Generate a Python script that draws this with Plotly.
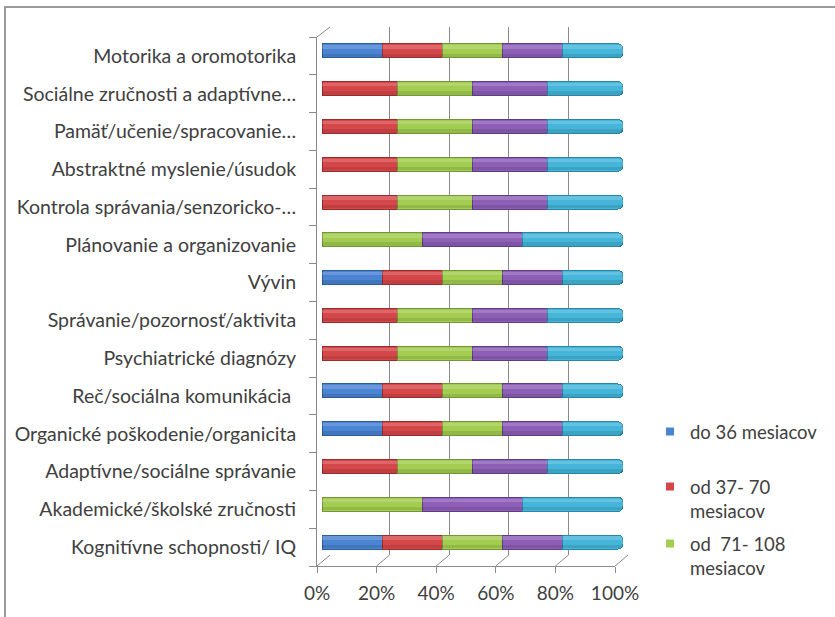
import plotly.graph_objects as go

# Category labels, top to bottom
categories = [
    "Motorika a oromotorika",
    "Sociálne zručnosti a adaptívne…",
    "Pamäť/učenie/spracovanie…",
    "Abstraktné myslenie/úsudok",
    "Kontrola správania/senzoricko-…",
    "Plánovanie a organizovanie",
    "Vývin",
    "Správanie/pozornosť/aktivita",
    "Psychiatrické diagnózy",
    "Reč/sociálna komunikácia ",
    "Organické poškodenie/organicita",
    "Adaptívne/sociálne správanie",
    "Akademické/školské zručnosti",
    "Kognitívne schopnosti/ IQ",
]

# Number of assessed methods per age band (shown as a 100 % stacked bar)
do_36 = [1, 0, 0, 0, 0, 0, 1, 0, 0, 1, 1, 0, 0, 1]
od_37_70 = [1, 1, 1, 1, 1, 0, 1, 1, 1, 1, 1, 1, 0, 1]
od_71_108 = [1, 1, 1, 1, 1, 1, 1, 1, 1, 1, 1, 1, 1, 1]
skupina_4 = [1, 1, 1, 1, 1, 1, 1, 1, 1, 1, 1, 1, 1, 1]
skupina_5 = [1, 1, 1, 1, 1, 1, 1, 1, 1, 1, 1, 1, 1, 1]

series_names = ["do 36 mesiacov", "od 37- 70<br>mesiacov", "od  71- 108<br>mesiacov",
                "skupina 4", "skupina 5"]
series_values = [do_36, od_37_70, od_71_108, skupina_4, skupina_5]

x_ticks = [0, 20, 40, 60, 80, 100]
x_tick_labels = ["0%", "20%", "40%", "60%", "80%", "100%"]

W, H = 835, 617
FONT = "Lato"
TXT = "#404040"
AXC = "#8a8a8a"

fill = ["#4a84d2", "#d6474a", "#a3cd50", "#8d5fb6", "#45b6da"]
edge = ["#2d5c9a", "#9a2c2e", "#73963a", "#5e3d85", "#2a85a6"]

# pixel geometry of the pseudo-3D frame
FRONT_X = (317, 615)
BACK_X = (330, 628)
FRONT_BOTTOM, BACK_BOTTOM = 566, 555
FRONT_TOP, BACK_TOP = 37, 27


def fx(px):
    return px / W


def fy(py):
    return 1 - py / H


fig = go.Figure()

# empty traces so the back-wall and front-frame subplots get drawn
fig.add_trace(go.Scatter(x=[], y=[], xaxis="x", yaxis="y", showlegend=False,
                         hoverinfo="skip"))
fig.add_trace(go.Scatter(x=[], y=[], xaxis="x3", yaxis="y3", showlegend=False,
                         hoverinfo="skip"))

# cylinder bodies
for name, vals, c, e in zip(series_names, series_values, fill, edge):
    fig.add_trace(go.Bar(
        x=vals, y=categories, name=name, orientation="h",
        xaxis="x2", yaxis="y2",
        marker=dict(color=c, line=dict(color=e, width=1)),
        showlegend=False,
    ))

# light reflection along the upper side and shade along the lower side
for vals in series_values:
    fig.add_trace(go.Bar(
        x=vals, y=categories, orientation="h", xaxis="x4", yaxis="y4",
        width=0.09, offset=-0.15, marker=dict(color="rgba(255,255,255,0.17)", line_width=0),
        showlegend=False, hoverinfo="skip",
    ))
for vals in series_values:
    fig.add_trace(go.Bar(
        x=vals, y=categories, orientation="h", xaxis="x5", yaxis="y5",
        width=0.09, offset=0.07, marker=dict(color="rgba(0,0,0,0.10)", line_width=0),
        showlegend=False, hoverinfo="skip",
    ))

# legend keys (small squares)
legend_ids = ["legend", "legend2", "legend3"]
for name, c, lg in zip(series_names[:3], fill[:3], legend_ids):
    fig.add_trace(go.Scatter(
        x=[None], y=[None], name=name, mode="markers", legend=lg,
        marker=dict(symbol="square", size=8, color=c), xaxis="x2", yaxis="y2",
    ))

legend_common = dict(
    font=dict(family=FONT, size=18.5, color=TXT),
    bgcolor="rgba(0,0,0,0)", xanchor="left", yanchor="middle",
    valign="top", itemwidth=30, tracegroupgap=0,
)

bar_x = dict(domain=[fx(322), fx(623)], range=[0, 100], visible=False)
bar_y = dict(domain=[fy(561), fy(32)], type="category", categoryorder="array",
             categoryarray=categories, range=[13.5, -0.5], visible=False)

shapes = [
    dict(type="rect", xref="paper", yref="paper",
         x0=fx(5), x1=1.05, y0=-0.05, y1=fy(7),
         line=dict(color="#9a9a9a", width=2), fillcolor="rgba(0,0,0,0)"),
    dict(type="line", xref="paper", yref="paper",
         x0=fx(FRONT_X[0]), y0=fy(FRONT_TOP), x1=fx(BACK_X[0]), y1=fy(BACK_TOP),
         line=dict(color=AXC, width=1)),
]
for v in x_ticks:
    fpx = FRONT_X[0] + (FRONT_X[1] - FRONT_X[0]) * v / 100
    bpx = BACK_X[0] + (BACK_X[1] - BACK_X[0]) * v / 100
    shapes.append(dict(type="line", xref="paper", yref="paper",
                       x0=fx(fpx), y0=fy(FRONT_BOTTOM), x1=fx(bpx), y1=fy(BACK_BOTTOM),
                       line=dict(color=AXC, width=1)))

fig.update_layout(
    width=W, height=H,
    margin=dict(l=0, r=0, t=0, b=0, autoexpand=False),
    paper_bgcolor="white", plot_bgcolor="rgba(0,0,0,0)",
    barmode="stack", barnorm="percent", bargap=0.63,
    barcornerradius=5,
    font=dict(family=FONT, size=18.5, color=TXT),
    # back wall with vertical gridlines
    xaxis=dict(domain=[fx(BACK_X[0]), fx(BACK_X[1])], range=[0, 100], tickvals=x_ticks,
               showgrid=True, gridcolor=AXC, gridwidth=1, showticklabels=False,
               ticks="", zeroline=False, showline=False, anchor="y"),
    yaxis=dict(domain=[fy(BACK_BOTTOM), fy(BACK_TOP)], range=[0, 1], showgrid=False,
               showticklabels=False, zeroline=False, showline=False, anchor="x"),
    # bars and their shading
    xaxis2=dict(anchor="y2", **bar_x),
    yaxis2=dict(anchor="x2", **bar_y),
    xaxis4=dict(anchor="y4", **bar_x),
    yaxis4=dict(anchor="x4", **bar_y),
    xaxis5=dict(anchor="y5", **bar_x),
    yaxis5=dict(anchor="x5", **bar_y),
    # front axes with labels
    xaxis3=dict(domain=[fx(FRONT_X[0]), fx(FRONT_X[1])], range=[0, 100], tickvals=x_ticks,
                ticktext=x_tick_labels, ticks="outside", ticklen=6, tickcolor=AXC,
                showline=True, linecolor=AXC, linewidth=1, showgrid=False,
                zeroline=False, anchor="y3", ticklabelstandoff=4,
                tickfont=dict(family=FONT, size=19, color=TXT)),
    yaxis3=dict(domain=[fy(FRONT_BOTTOM), fy(FRONT_TOP)], range=[13.5, -0.5],
                tickvals=list(range(len(categories))), ticktext=categories,
                ticks="", showline=True, linecolor=AXC, linewidth=1, showgrid=False,
                zeroline=False, anchor="x3", ticklabelstandoff=16,
                minor=dict(ticks="outside", ticklen=7, tickcolor=AXC,
                           tick0=-0.5, dtick=1, showgrid=False),
                tickfont=dict(family=FONT, size=19.5, color=TXT)),
    legend=dict(x=fx(650), y=fy(432), **legend_common),
    legend2=dict(x=fx(650), y=fy(499), **legend_common),
    legend3=dict(x=fx(650), y=fy(556), **legend_common),
    shapes=shapes,
)

fig.write_html("out.html")
